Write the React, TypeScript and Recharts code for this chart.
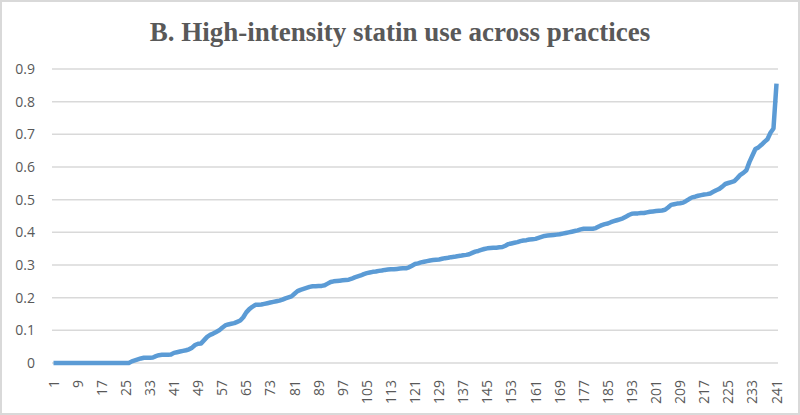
import * as React from "react";
import { LineChart, Line, XAxis, YAxis, CartesianGrid } from "recharts";

const TITLE = "B. High-intensity statin use across practices";

// share of high-intensity statin use, practices sorted ascending (1..241)
const RATES = [
  0, 0, 0, 0, 0, 0, 0, 0, 0, 0,
  0, 0, 0, 0, 0, 0, 0, 0, 0, 0,
  0, 0, 0, 0, 0, 0, 0.005, 0.008, 0.011, 0.014,
  0.016, 0.016, 0.016, 0.017, 0.021, 0.024, 0.025, 0.025, 0.025, 0.026,
  0.031, 0.033, 0.035, 0.037, 0.039, 0.042, 0.047, 0.055, 0.059, 0.06,
  0.07, 0.08, 0.086, 0.09, 0.095, 0.1, 0.108, 0.115, 0.118, 0.12,
  0.122, 0.126, 0.13, 0.14, 0.155, 0.165, 0.172, 0.178, 0.178, 0.179,
  0.181, 0.183, 0.185, 0.187, 0.189, 0.191, 0.194, 0.198, 0.201, 0.204,
  0.212, 0.22, 0.224, 0.227, 0.23, 0.233, 0.235, 0.235, 0.236, 0.236,
  0.238, 0.243, 0.248, 0.25, 0.251, 0.252, 0.253, 0.254, 0.255, 0.258,
  0.262, 0.265, 0.268, 0.272, 0.275, 0.277, 0.279, 0.28, 0.282, 0.283,
  0.285, 0.286, 0.287, 0.287, 0.288, 0.289, 0.29, 0.29, 0.293, 0.298,
  0.303, 0.305, 0.308, 0.31, 0.312, 0.314, 0.315, 0.316, 0.317, 0.319,
  0.321, 0.322, 0.324, 0.325, 0.327, 0.328, 0.33, 0.331, 0.333, 0.337,
  0.341, 0.343, 0.346, 0.349, 0.351, 0.352, 0.353, 0.353, 0.354, 0.355,
  0.359, 0.364, 0.366, 0.368, 0.37, 0.373, 0.375, 0.376, 0.378, 0.379,
  0.38, 0.383, 0.386, 0.389, 0.39, 0.391, 0.392, 0.393, 0.394, 0.396,
  0.398, 0.4, 0.402, 0.404, 0.406, 0.409, 0.411, 0.411, 0.411, 0.411,
  0.413, 0.418, 0.422, 0.425, 0.427, 0.431, 0.434, 0.437, 0.44, 0.443,
  0.448, 0.453, 0.457, 0.458, 0.458, 0.459, 0.459, 0.461, 0.463, 0.464,
  0.465, 0.466, 0.467, 0.469, 0.476, 0.484, 0.486, 0.488, 0.489, 0.491,
  0.496, 0.502, 0.507, 0.509, 0.512, 0.514, 0.516, 0.517, 0.519, 0.524,
  0.529, 0.533, 0.54, 0.548, 0.551, 0.554, 0.557, 0.566, 0.576, 0.582,
  0.59, 0.615, 0.635, 0.655, 0.66, 0.668, 0.677, 0.685, 0.705, 0.718,
  0.855,
];

const Y_TICKS = [0, 0.1, 0.2, 0.3, 0.4, 0.5, 0.6, 0.7, 0.8, 0.9];

const data = RATES.map((v, i) => ({ practice: String(i + 1), rate: v }));

const TEXT = "#595959";
const FONT = "'Open Sans', sans-serif";

// rotated category label, reads bottom to top
const XTick = (props: any) => {
  const { x, y, payload } = props;
  return (
    <g transform={`translate(${x},${y + 9})`}>
      <text
        transform="rotate(-90)"
        textAnchor="end"
        dy={5}
        fill={TEXT}
        fontSize={14}
        fontFamily={FONT}
      >
        {payload.value}
      </text>
    </g>
  );
};

export default function App() {
  return (
    <div style={{ position: "relative", width: 800, height: 415, background: "#fff" }}>
      <style>{`body{margin:0}`}</style>
      <div
        style={{
          position: "absolute",
          top: 19,
          left: 0,
          width: 800,
          textAlign: "center",
          fontFamily: "'Liberation Serif', 'Times New Roman', serif",
          fontWeight: "bold",
          fontSize: 27,
          lineHeight: 1,
          color: TEXT,
        }}
      >
        {TITLE}
      </div>
      <LineChart
        width={800}
        height={415}
        data={data}
        margin={{ top: 69, right: 22, bottom: 12, left: 12 }}
      >
        <CartesianGrid vertical={false} stroke="#D9D9D9" strokeWidth={1.5} />
        <XAxis
          dataKey="practice"
          interval={7}
          axisLine={false}
          tickLine={false}
          height={40}
          padding={{ left: 1.5, right: 1.5 }}
          tick={<XTick />}
        />
        <YAxis
          domain={[0, 0.9]}
          ticks={Y_TICKS}
          width={40}
          axisLine={false}
          tickLine={false}
          tickSize={0}
          tickMargin={17}
          tick={{ fill: TEXT, fontSize: 14, fontFamily: FONT }}
        />
        <Line
          type="linear"
          dataKey="rate"
          stroke="#5B9BD5"
          strokeWidth={4.5}
          strokeLinejoin="round"
          dot={false}
          isAnimationActive={false}
        />
      </LineChart>
      <div
        style={{
          position: "absolute",
          inset: 0,
          border: "2px solid #D9D9D9",
          pointerEvents: "none",
        }}
      />
    </div>
  );
}
